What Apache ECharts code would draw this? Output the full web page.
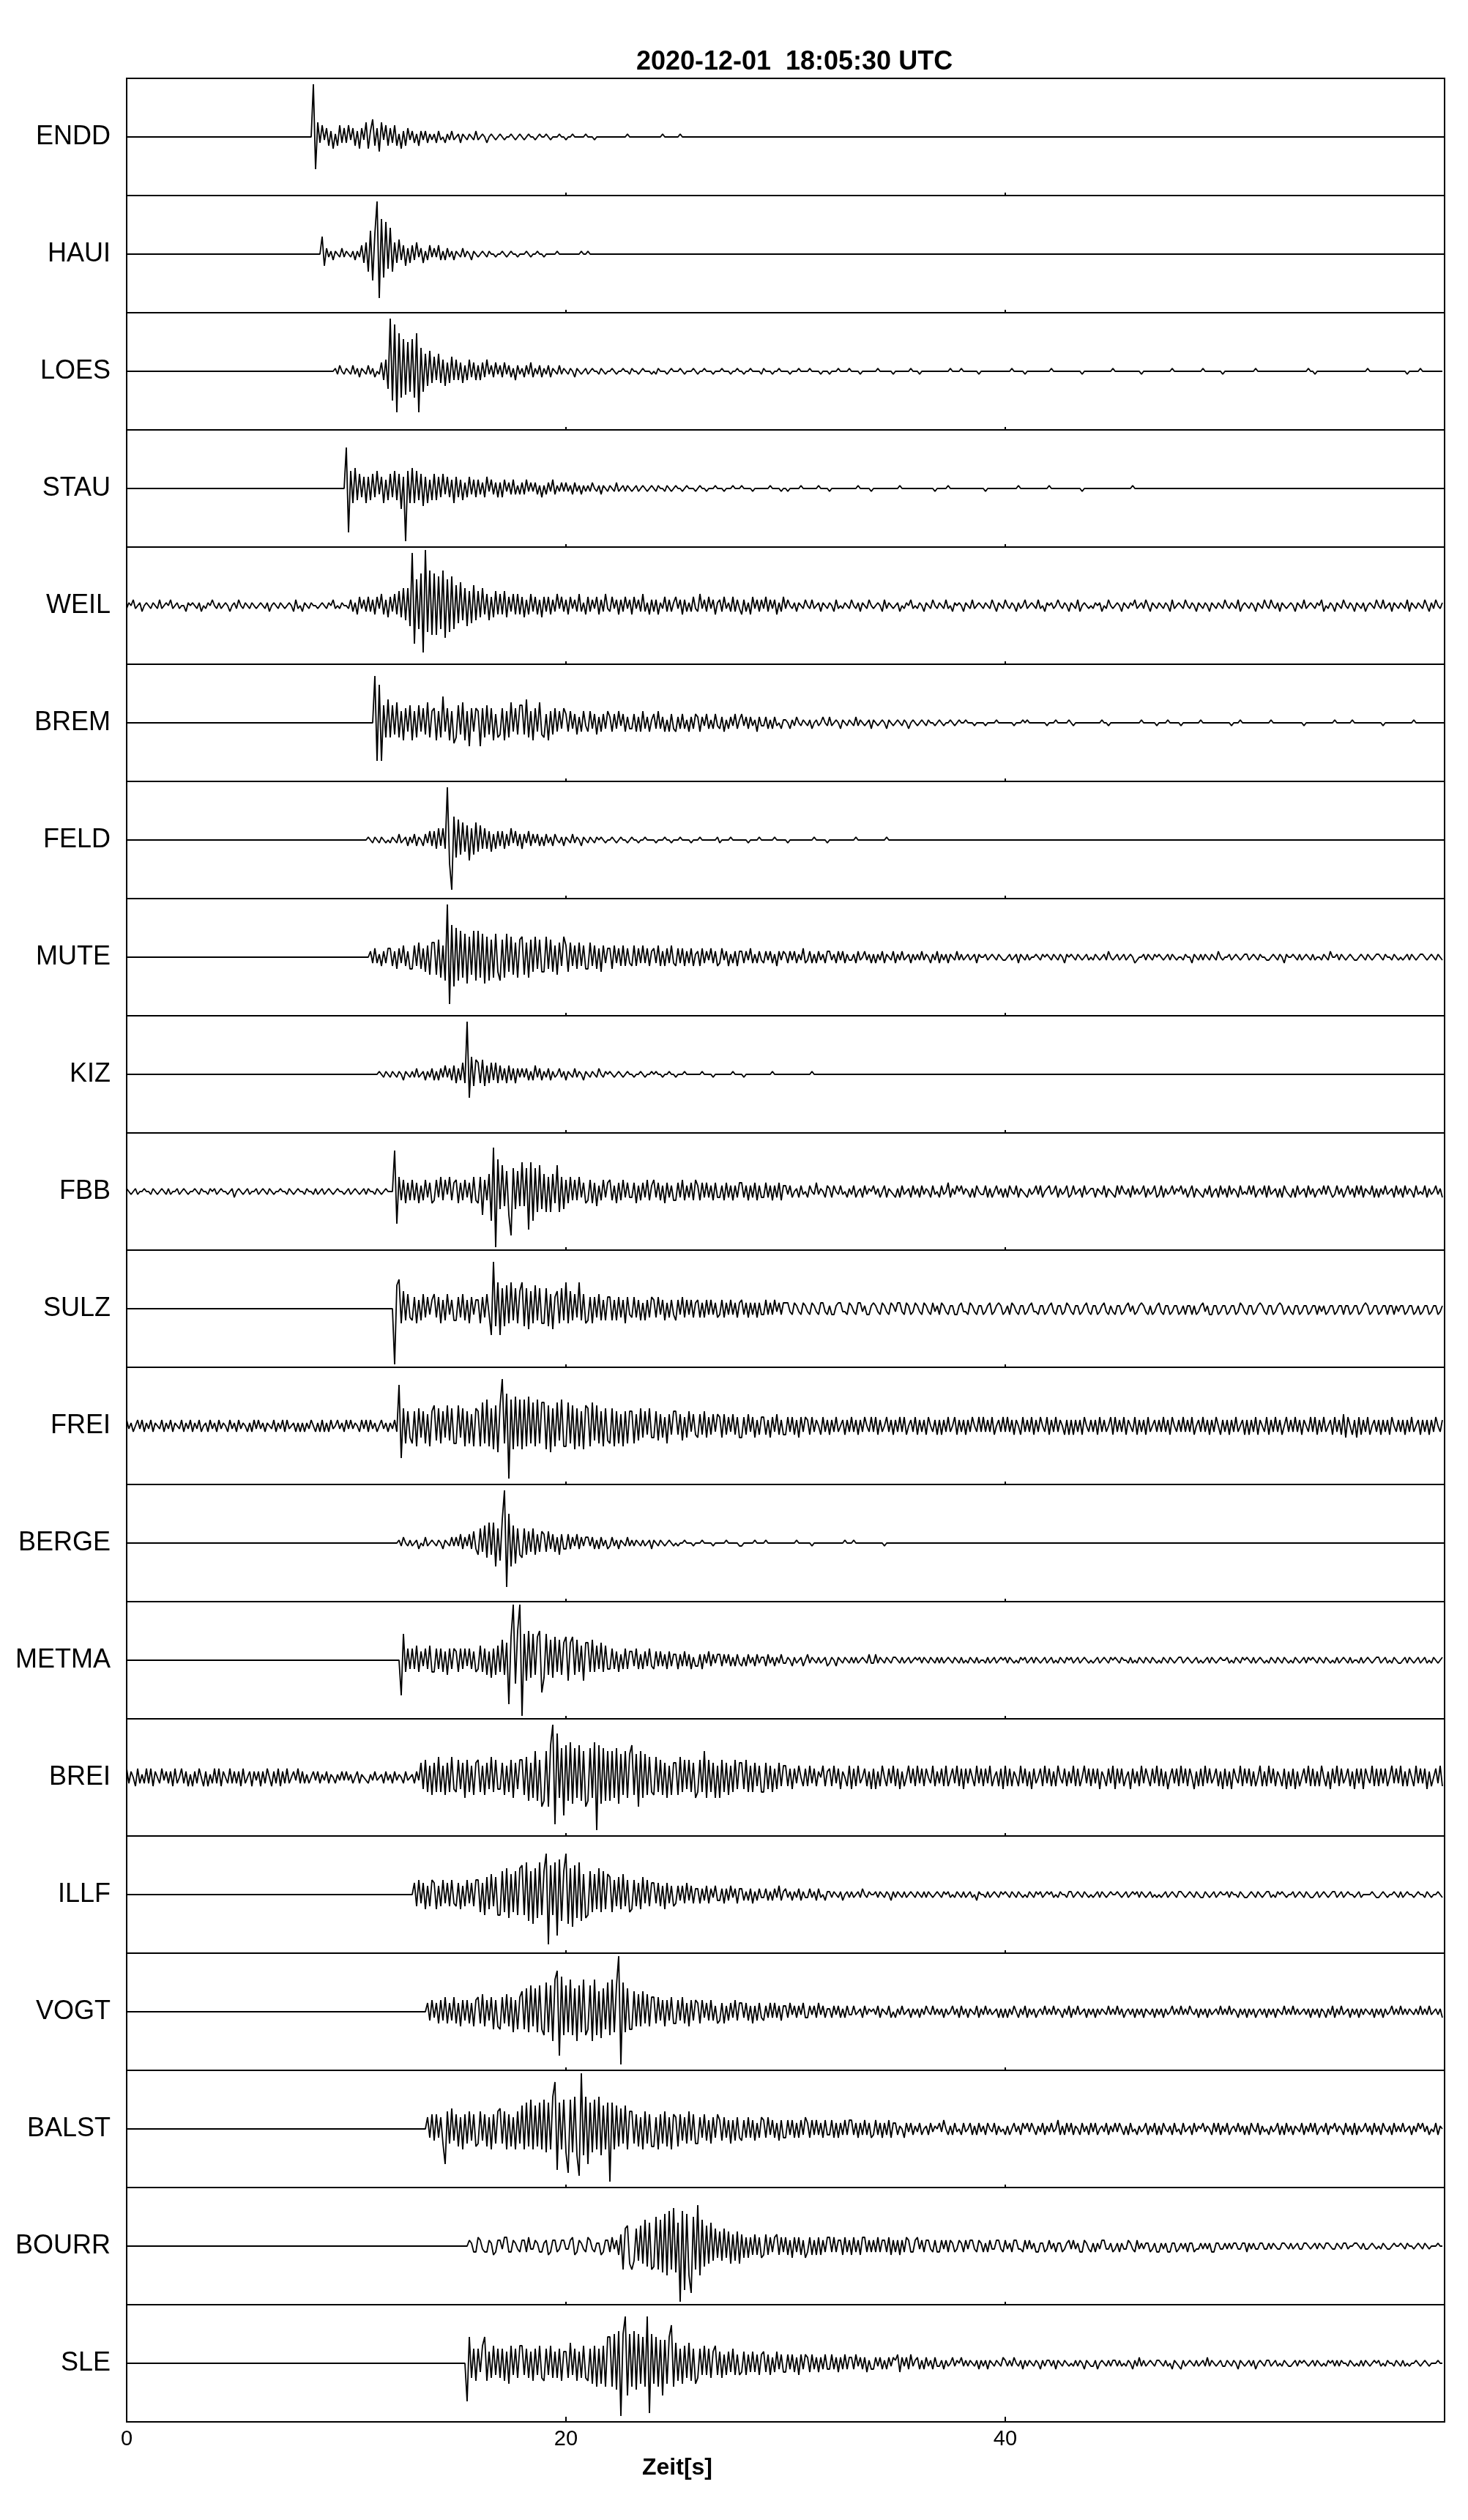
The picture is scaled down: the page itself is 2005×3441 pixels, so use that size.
<!DOCTYPE html>
<html><head><meta charset="utf-8">
<script src="https://cdn.jsdelivr.net/npm/echarts/dist/echarts.min.js"></script>
<style>html,body{margin:0;padding:0;background:#fff}#c{width:2005px;height:3441px}</style>
</head><body><div id="c"></div><script>
// ---- data ----
// Each trace: start second + space-separated groups, one group per second of record.
// Sample codes: '0' = 0, 'A'..'T' = +1..+20, 'a'..'t' = -1..-20 (20 = half the trace height).
const titleText = '2020-12-01  18:05:30 UTC';
const axisTitle = 'Zeit[s]';
const timeTicks = [0, 20, 40];
const stations = ['ENDD','HAUI','LOES','STAU','WEIL','BREM','FELD','MUTE','KIZ','FBB','SULZ','FREI','BERGE','METMA','BREI','ILLF','VOGT','BALST','BOURR','SLE'];
const startSeconds = [8, 8, 9, 9, 0, 11, 10, 11, 11, 0, 12, 0, 12, 12, 0, 13, 13, 13, 15, 15];

const ENDD = "00000RkEbD aCcBdAcDbC bDaCcBdCaE dBFcCeEaDc CbDcAdBcCa BbAcBaBbAa AbBa0bAaBa 0AbA0aA0aB a0A0b0A0a0 A0a00A0a0A 0a0A00a0A0 0A0a000A00 a00A00000A 000a000000 00000000A0 0000000000 0000A00000 00A0000000";
const HAUI = "000000000F dBaAbA0aBa A0aAbAaCcD fHiGRoLhKe IfDcEbCdBc CbDaBcAbCa BaCbAbBaAb A0aBaA0bA0 a0A0aA00a0 0A0a0A00a0 00A0a00A00 a00000A000 0000000A00 A000000000";
const LOES = "00000AaB0a A0aBaAbA0a BaAb0aCcDf RjPnMiKhJg KiMnHgFeGd EcFdDeCdEc DcCdBcDbCc BcCbDaBbCa BbCaBbAcBa AbBaCbAaBb AaBbA0aBaA 0aA0bA0a0A " +
  "a0A00aA0a0 0A0a00A00a A00a0A000a 0aA000a0A0 00A0a000A0 a00A000a00 0A000a00A0 0a00A0000a A000a00A00 00a000A000 0A0000a000 a000A0000A " +
  "0000a00000 00A000000a 0000000A00 0a00000000 00000A0000 A0000000a0 0000000000 000A00000a 0000000000 0A00000000 00000a0000 000000000A " +
  "0000000000 00a0000000 000000A000 0000000000 A00000000a 0000000000 0000A00000 0000000000 00000000A0 0a00000000 0000000000 00000A0000 0000000000 000a00000A 0000000000";
const STAU = "0000000000 NoFeGdEcDe DdEcFbDeCd EcFdEgDrFe GeFdEfDeCd EdDcEbDcCe DcCdBcDbCc CbBcDaCbBc BcCaBbCbAb BbCaBaBbAc AbBaCbAaBa BaAbBaAbAa AaB0aAbA0a A0aBa0AaA0 a0Aa0A0a0A 0aA00aA0a0 A00a0A000a " +
  "0A00a000A0 00a000A000 A0000a0000 000A0000a0 0a00000A00 00000A0000 a000000000 000A00000a 0000000000 00A0000000 00000000a0 0000A00000 0000000000 0a00000000 000000A000 0000000000 A000000000 00000a0000 0000000000 00000000A0";
const WEIL = "aA0Ba0Ab0A 0aA0aBa0A0 Ba0Aa00bA0 A0aAb0aA0B 0aAa0A0b0A aB0aA0aA0a 0A0aAb0A0a A0a0A0bBa0 bA0aA00a0A 0aA0Ba0aA0 " +
  "0aBbAcCaBb CbBcCaDcBd CbDcEdFeFg RmIhKpSiLj KjJhLkIiJh GfHeFgEfGe EdFcDeCdEc DcEdCbDcDc CdBcDbCcBd CbCcBbDaCb " +
  "BcCaBbDbAc CbBaCcBbDa bCaBcBbCaB cCaBbDbAcB bBcAaCbBbA CaBcBbAbCa bDaBbCaBcA BbCaAbCbBa cBbAcCaBbB aCbBaBcAbC " +
  "aB0aAbA0aB 0aBa0AbA0a A0bBa0aA0a B0aAbA0aB0 a0A0bBaA0a 0Ab0aA0Ba0 aA0bA0aB0a A0aBa0bA0A 0bA0aBa0A0 aA0aB0bA0a " +
  "B0aA0bAa0B a0A0aBa0bA 0Aa0B0aA0b A0aBb0A0a0 aA0Ab0aB0a 0A0bA0aA0B a0AaB0bA0a A0aA0bBa0A 0aB0aA0bA0 aA0bA0aA0a " +
  "B0aA0aBb0A 0aA0bA0aB0 aB0aAbA0a0 A0bA0aBa0A 0aA0Bb0aA0 bA0aB0aA0b A0aAb0A0aB 0aBa0AbA0a A0aBbA0aA0 aB0bAaB0aA";
const BREM = "000PmMmFeH eFdGeDfEcF fDeFcEdGeD EfDeIcEfDg eFdGfDhEcE DhEeFdEfCe dEfDeGcEdF FdHeDfEcGd eCfDdEcDbE CcDbCdBcDa cDbCdBcCbD BcCbDaCcBb bCcBcDbBcA CbDbBcAcCb cBbCbAcBbC BcBaCbAbCa bBcAbBaCbA CaBbBaAcBa aBbAbBa0bA " +
  "A0bAaB0aA0 aAb0Aa0B0a Ba0A0bA0aA 0aBaA0a0Ab A0a0A0bA0a 0A0aA0b0A0 a0A0aA00a0 A0a00A0a0A " +
  "00A000a000 0a0000A000 0000a000A0 A00000000a 000A00000A 0a00000000 0000A00a00 0000000000 00A000000a 0000A00000 a00000000A 0000000000 000a000A00 0000000000 0A00000000 000000a000 0000000000 A0000000A0 0000000000 00a0000000 000000A000";
const FELD = "0000000000 A0aA0aA0a0 aA0aBa0AbA aBbA0bBaCb CcDbDcRhqH fGeFdEgDeF dEcDcCdBcC bCcBbDaCbB cBaCbBaBbA bBaAbB0aAb A0aBaA0bA0 aA0aA0A0a0 0A0a0A00a0 " +
  "A00a00A000 0a000A00a0 00A0000a00 0A0000000A a0000A0000 000a0000A0 00000A0000 0a00000000 000A00000a 0000000000 00A0000000 000000A000";
const MUTE = "0BbCbAcBbC CcBdCbDcBd dDcEdCeDfE EfFgDhRpKj JhIgHiGfIh IgHiGhFgHe hFgHeGfEgF GfEgFeGdFe eGdFeDfEcG DeEcDdEcDd dEcDdCeDbC CdDbCcDcCb cDcCbDbCcB CbDcBcCbDb cCbCcBbCcA BcCbBaCbBc bCaBcAbBcB BbBaCbAbBa bBaBbAcBaB AbBaBbAaCb " +
  "aBbAbBaAbB BaAbBaBbAa aAbBa0BaAb AbAaBbA0aB bAaBa0AbAa AaBaA0bAaB bAaAbA0aBa " +
  "Aa0Aa0AbA0 0Aa0A0aA0a a0Aa0AbA0a Aa00A0aA0A 0aA0aA0bA0 A0aA0a0Aa0 aA0a0AaB0a 0Aa0Aa0A0b a00AaA0aA0 A0a0AaA0a0 0aA00bA0aA " +
  "aA0aA0aB0a 00Aa0A0a0A Aa0A0aA00a a0A0aA0bA0 0A0aAa0A0a Aa00aA0aB0 0AaA0a0A0a a0A0aA0a0A A0aA00aA0a 0a0AaA0a0A A0a0A0aA0a";
const KIZ = "00000A0aA0 aA0aA0bA0a AaBa0AbAaB bAbBaCaBbC cBbDcRhFdE DcEdCcDbDc CbBcCbBcBa BaBbAbCaBb AaBbAa0BaA bA0aBaA0bA 0aA0aB0aA0 A0a0A0a0A0 0a00A0a00A 0A00a00A00 " +
  "a000A00000 00A0000a00 000000A000 0a00000000 0000A00000 0000000000 00A0000000";
const FBB = "A0a0Aa00A0 0aA0a0A0aA a00Aa0A0a0 0A0aA00aA0 Aa0A00a0Ab 0A0a0Aa00A a0A0aA0a00 A00aA0a0A0 0aA00aAa0A a0A0a0A00a 0Aa0A0a0Aa A00aA0a0A0 " +
  "00NkEcDdCc DcCdBcDbCd cDbEcDaEcC DdCcDbCdEc dEhDcFjOsK fIeGhoHfGe JeHmJjHgIf FgEgFdIgEf DdEcDcEbCd cDdCeBcDbC DcBdCcDbCb bCdBcCbDcB DbCcBdCbBc cCbDcBbCcD BcCbCbBcCb bBcCbBcBbC CbBcBbCcBb bCbBcBbCcB " +
  "BaBb0AbBa0 bB0aCaA0bB AbB0aBa0bA aBb0AbBaA0 BaAb0BbA0a bAbBa0AbBa AbBaA0bBa0 bBa0CbAaB0 BaA0bAbB0a aBbAb0BaAb " +
  "AbB0aBbA0a bAa0BaBb0A Ba0BbAa0Bb aBa0AbBa0A AbA0aBbA0a bBaB0aAbBa Aa0BbAa0Bb aBbAa0BaA0 BaAb0BbA0a bAaBb0AbBa " +
  "AbBaA0bBa0 aBaBb0AaBb Ba0AbAbB0a bAbBa0AbBa Ab0AaBaB0b aBaAb0BaAb BaBbA0aBbA bAaBa0AbBa AbBaA0bBa0 aBbAa0BaAb";
const SULZ = "00sHJeFdEc dDeCdEcDbC EcDeCdEbCd dDcEdCeDbC CeDcEbiPfI iGfHeIdGeF IfGgFeHdGe eGfEgDFeGd IeFdEcIdEe dDeDcEdCdD DdCdDcCeDb cDcCdBdCcD CcDbCdBcCb dCbDcCbCcB CcBcCbCbBc bCcBbCbBcB CbBcBbBcBb bCbBbCaBbB " +
  "BBabBAabBA abBAabBBab AbbABBaabB AabBBaAbbA BAabBAabBA aBBabBAbaB AabBAabBaA bBAabAAbbA BaabBAabAA baABbaABAb " +
  "aAbBAabAAb aABaabAAba ABabAAbaBA abAAbaABab AAbaABabAa bAAbaABaAb aABAabAbaA BabAAbaAAb aAbAAbAbaA BaAbbAAbaA " +
  "AbaAAbaBAa bAAbaABAab AAbaABAbaA abAAbaAAba AAbAaAbaAA baAAbAAbaA AbaABAbaAA baAAbAAbAa AAbaAAbaAb aAAbaAAbaA";
const FREI = "BaAb0BaBbA aBbA0aBbAa BbA0aBbAaB bAaBb0AbBa AbBaA0bBaA bBaA0bAbBa BaAbA0aBbA aBbBa0AbAb AbAaB0bAbB bAbBa0BaAb BaBaA0bBaB bBaAb0BaAb " +
  "AaBbNkFfEd fEgFdEfDgE GeFfEdGeFf fGdFgEfDgF EgHfIgFhGi GPfKrIhJgI hIgJfHgIfH HhGiFgHeIg gHfGhFgEhG FgHeGfEgFe fFgEfDgEfE EfDeFdEcFd dEeDdCfDcE EcDeCdEbDc dDcEdCcDbD CdDcCbDcCd dCcDbCdBcC CcBdCbDcBc cCbCcBdCbC " +
  "BcCbB0cCbB cBbCb0BcBb CbBcBbC0bC bCcBb0CbBc BbCbCc0BbC cBbBcC0bBc BcBbCb0CcB bBcBbC0bCb CbBbCc0BbC bCbBcB0cCb " +
  "BbCcBbC0bC cBbCbB0cBc BcBbBcC0bB bBcCbBb0Cc CbBbCcB0bC cBbBcCb0Bb BbCbBcC0bB bCbBbCc0Bb CbBcBbC0cB bBcBbCb0Bc " +
  "BcBbCcB0bC cBbCbBc0Cb BbCbBcB0bC bCcBbCb0Bc CbBcDdC0cB dCcBbCc0Bb BcBbBcC0bB bBcBbCb0Bc BbBcBbC0bB";
const BERGE = "0000AaB0aA a0Ab0aBa0A 0aA0bA0aBa BaCbBaCbDb dEcFeGdGhE fHRoJhFgEd eEdDcEdCcD CcDbCcBdCb bCbBaCbBaB BaBbAbBaAb aBaAbA0aBa AaA0aAa0Ab A0aA0a0A0a " +
  "0a00A000a0 00A0000a00 000A00000a a00000A000 0A00000000 00000A0000 00a0000000 0000000A00 0A00000000 00000a0000";
const METMA = "00000lIdDc DcEdCbDcEd dDcDdCeDcD CdDcDbDcCd cEdDeCfDeE dGeFoHShJS sIgJfIeHJk fIeGfHdGeF HgFHeGdEgF FdGdEcFdEc cDcCdBcDcC CbDcBcCbDb cCbCbBcCbB BcBbCbBcAb bBcBaCbBaB BbBaBbAbBa bAbBaAbBaA AbBaAbAaBa " +
  "aA0bAa0Ab0 BaA0aAa0Ab aA0bA0aA0a AaAa0A0aBa aBaA0aA0aA A0aAa0Aa0A 0AaA0aA0aA aAa0A0aA0a Aa0aA0aAa0 0aAa0Aa0A0 " +
  "AaA0a0aA0A a0AaA0a0Aa 0Aa0aA0aA0 Aa0Aa0A0a0 a0Aa0A0aA0 A0aA00aAa0 aA0aA0aA0a 0aA0aA0a0A Aa0A0a0Aa0 a0AaA0a0A0 " +
  "0Aa0aA0aA0 A0aAa0A0a0 aA0aA0aA0a 0aA0a0AaA0 A0aA0aA0a0 aAa0A0aAa0 0aAa0A0a0A Aa0Aa0aA0a a0AaA0a0Aa 0Aa0aA0a0A";
const BREI = "CbB0cCbAbC bCcB0bCaBb BcCb0CbBcA cBbC0cBcAb CbCcB0bCbB bBcCb0BcBa BcBbC0cBbC cBbCb0BaCb " +
  "BbAb0BaBbA aBbA0bAaBa BaAb0BbA0a bAaBa0AbBa AbBaA0bBa0 " +
  "AbBaEdFeDf EeGeDfEeGd eFdEgFeDfE FeDfEdGeFd dEfDeFgEdF FfGhEgIhFj hIjKRpOgJm KhLiJgKhIj hJgLrKiJhI hIgJiHfIgH KfHjIgHfGe fGeFfEgDfE EfGeFdFeEg eFeIgFeEgD gFeEfDeFdE EdFeDeEcDe eEdDeCdEcD " +
  "DcCdCbD0cC cDbCcB0DcB CcDbCdB0cD dCcDb0CcBd CdBcD0cCbD cCdBc0DbCc DbCcC0bDcB bCcDc0CbDc CdCbC0cDbC cCbDc0BcCd " +
  "DcCcB0cDbC cBdCb0CcDb CcBcD0bCcB bDcCc0DbCc CbCdB0cCbD dCbCc0BdCb BcDbC0cCbD cCcBd0CbCc DbCcC0dBcC cDbCb0CcBd " +
  "CcBdC0bDcC bCcBc0DcBc DbCcB0cCdB cCdBc0CbDc CcBcD0cBdC bDcCb0CcBd CbCdC0bDcC cCbCc0DbCb DcBcC0cDbC bCdBc0CbDc";
const ILLF = "0DdEcDeCdE DeCdEcDdEc dDeCdEcDdE EfDgFeGdFg gHfIhGfHgI JgKiHjIhKg HNqJgKnLiH NjIkJhKiGh gHfGeIfHeG FfEdFeGdEf eEdDeFcEdD DcDdCeDcCd cCbCcDbCcB BcBbCcBaCb bBcBbCaBcB BbAbBcAbBa aBbAbBaCbA BaAbAaBbAa aBaAbBa0bA " +
  "AaA0aAb0Aa Aa0AaB0aA0 0AaA0aA0bA aA0aAa0A0a A0aAaA0a0A 0aA0Aa0aA0 aAa0Aa0bA0 0aAa0A0aA0 A0aA0aA0a0 aA0aA0Aa0A " +
  "0Aa0aA00aA Aa0A0aA0a0 a0AaA0a0A0 0A0a0Aa0A0 AaA0a0Aa0a 0a0Aa0A0aA A0a0A0aA0a aA0a0Aa0A0 0AaA00aA0a a0A0aA0a0A " +
  "Aa0aA0A0a0 0Aa0A0aA0a a0Aa0A0a0A Aa0Aa0A00a 0Aa0000A0a a0A0a00A0a Aa0A00a0A0 0aA0a00A0a";
const VOGT = "0000000CcD bCdDcEdCcE dCeDcDdCeD EdFeDcEfDe fEdFeEgDfE GfHgIeHgIf hJgIjKNoLh IgKhHjIgKh fIjKhGiHfJ hKgISrJgHf fGeFeGdFeE EdEcDeDcEd dDcEdCeDcD CdDbCcDcBd cCdBcCbDcC CbCcBdBcCb cBbCbCbBcB BbCaBbBaCb bBaBbCaBbA AbBaBbAbBa " +
  "aBa0AbBaA0 AaBbA0aBb0 bAaBa0AbAa AbAaB0aBaA aAbAa0BaAb BaAbA0aBbA aBaAa0AbAb AbAaB0bAaB bAaAb0AaBa AaBaA0bAaB " +
  "bAaBa0AbAa AbAaA0aBaA aBaAb0AaAb AaAbA0aAbA aAbAa0BaAa BaAaB0aAbA aAbAa0AaBa AaBaA0bAaA bAaAb0AaAb AaAbA0aBaA " +
  "aBaAa0AaAb AaAbA0bAaB bAaBa0AbAa AbAaA0aAbA aAbAa0BaAa BaAaA0aAaB aAaBa0AaAb";
const BALST = "0000000DcE dEcDelFeGd EfDgEeFdEf eFdEfDgEeF GeFgEfDgFe HgIfJgHfIg JhIgKPnIgJ hoJhKipSiK lIhJgKiHgI rIgHfGeHgF FeEfDgFeEf fDgEeFfDgE DfEdDeFdEe eDcEdCeDcE CdDcCeCdDc dCcDcCdBcD CcDbCcBdCc cCbCcBcCbD BcCbCbBcCb bCcBcBbCbC CbBcBbCbBc bCbBcBbCcB " +
  "BbA0cBaBbA aBb0AbBaA0 BaC0bAbBa0 bBa0BbAbBa AbB0aBbAa0 bAb0BaAbB0 BaB0bAaBbA aBa0CbAbBa BbA0bBaAbB aBb0AaBbAa " +
  "BaB0bAbBa0 bAa0BbAaBb AbB0aAbBa0 bBa0AbBaA0 BaA0bBaBbA aBb0AaBaAb AbB0aBbAa0 bAa0BbAbBa AbA0aBbAaB aBb0AaBbA0 " +
  "BaA0bBaAbB bAa0BaAbBa AbB0aAbBaA aBa0AbAaB0 BaAb0aBbA0";
const BOURR = "000000BAbb CBabbBAcbB BaCCbbBAab BBbCaaBAbb ABcbBBbaBB aaBCcbBAab CBabAAcbBB bCaBcDhFGf heFeGfIgHh gJhIiKjLhM iHsLoKjpJh NjIgGfHeFd EeFdEfDeEf DdCdCcDcCd cDcCbCDcCb CcBdCbCcBd bCcBcCcBbC CbCbBBcCbB cCbBcCCbBb BbCbBBbCcB bBcBbCBbbB CaBbBBabBb " +
  "bBaBbBAbaB AbBaBBabBA bAbBaaBBab BaAbBBaabB aBaAbbAAba BaAbAAbaAB aBaAbbBAab AbAaBBaaAb aAbAaaBAab BaAaAAbaAb " +
  "bAaAbbAAba AaAbAAbaaA aAaAbbAAaa AaAaAAaaAA bAaAaaAAaa AaA0aaAA0a Aa0AaaAA0a 0AaA0aAA0a aA0aAAa00A A0aAaa0A0a " +
  "0aA0aa0A00 A0aA00a0A0 aA0a000A00";
const SLE = "00000mIeEf EcFIfDeFdE eEfDgFdEeF FdEeDfEdFe fEdFeDeEfD DeGdEfDeFe fEgFhEgFhI IhJiKrJPkJ hKiJgIhPqJ gIhHkHgIMh GfEgFeGfEg eEdFdEeDFd DeCdDcEdCd cDdCcDcCdC DcCdBcDbCc cCbCcBdCbC BcCbBcBbCb bCbBcBbCbB BbCaBbBcAb bBaBbAbBaB ACcBaBbCaA BbAbBaAbBa " +
  "aAbAa0BaA0 BaAaA0aAbA aAbA0aA0aB AaAaB0aAbA aA0aA0bAaA AaAbA0aA0a 0aAaA0bA0a aAb0A0aAaA AaAa0aA0bA aBaAa0A0aA " +
  "A0aAa0bA0a bAa0A0aAa0 AaBaA0a0Aa aA0aA0bA0a 0AaAb0A0aA Aa0Aa0aA0a a0AaA0A0a0 AaA0a0aA0A aAaA00aA0a 0aAaA0a0A0 " +
  "Aa0aA00aA0 aAa0a00A0a 0A0a000A00";
const traceCodes = [ENDD, HAUI, LOES, STAU, WEIL, BREM, FELD, MUTE, KIZ, FBB, SULZ, FREI, BERGE, METMA, BREI, ILLF, VOGT, BALST, BOURR, SLE];

// ---- build ----
function codeValue(ch) {
  if (ch === '0') return 0;
  if (ch >= 'A' && ch <= 'Z') return ch.charCodeAt(0) - 64;
  return -(ch.charCodeAt(0) - 96);
}
// every group is one second; its samples are spread evenly over that second
function decodeTrace(code, t0) {
  const pts = [];
  code.trim().split(/\s+/).forEach((grp, s) => {
    const n = grp.length;
    for (let k = 0; k < n; k++) pts.push([+(t0 + s + k / n).toFixed(4), codeValue(grp[k])]);
  });
  return pts;
}
const FONT = '"Liberation Sans", Arial, Helvetica, sans-serif';
const T_MIN = 0, T_MAX = 60;
const PLOT_LEFT = 173, PLOT_TOP = 107, ROW_H = 160, PLOT_W = 1800;
const N = stations.length;
const grids = [], xAxes = [], yAxes = [], series = [];
for (let i = 0; i < N; i++) {
  const last = i === N - 1;
  grids.push({ left: PLOT_LEFT, top: PLOT_TOP + i * ROW_H, width: PLOT_W, height: ROW_H,
    show: true, borderColor: '#000', borderWidth: 2, backgroundColor: 'transparent' });
  xAxes.push({ gridIndex: i, type: 'value', min: T_MIN, max: T_MAX, interval: 20,
    axisLine: { show: false, onZero: false },
    axisTick: { show: true, inside: true, length: last ? 7 : 4, lineStyle: { color: '#000', width: 2 } },
    axisLabel: { show: last, color: '#000', fontSize: 29, fontFamily: FONT, margin: 9,
      formatter: v => (timeTicks.indexOf(v) >= 0 ? String(v) : '') },
    splitLine: { show: false } });
  yAxes.push({ gridIndex: i, type: 'value', min: -20, max: 20, interval: 20,
    axisLine: { show: false }, axisTick: { show: false }, splitLine: { show: false },
    axisLabel: { show: true, color: '#000', fontSize: 36, fontFamily: FONT, margin: 22,
      formatter: v => (v === 0 ? stations[i] : '') } });
  const t0 = startSeconds[i];
  const pts = decodeTrace(traceCodes[i], t0);
  const data = [];
  if (t0 > T_MIN) data.push([T_MIN, 0]);
  pts.forEach(p => data.push(p));
  const tEnd = pts.length ? pts[pts.length - 1][0] + 0.1 : T_MIN;
  if (tEnd < T_MAX) { data.push([tEnd, 0]); data.push([T_MAX, 0]); }
  series.push({ type: 'line', xAxisIndex: i, yAxisIndex: i, data: data, symbol: 'none', showSymbol: false,
    lineStyle: { color: '#000', width: 1.8 }, silent: true, animation: false, clip: true });
}
const chart = echarts.init(document.getElementById('c'), null, { renderer: 'canvas' });
chart.setOption({
  animation: false,
  backgroundColor: '#fff',
  title: { text: titleText, left: 1080, top: 62, textAlign: 'center',
    textStyle: { fontSize: 36, fontWeight: 'bold', color: '#000', fontFamily: FONT } },
  grid: grids, xAxis: xAxes, yAxis: yAxes, series: series,
  graphic: [{ type: 'text', x: 925, y: 3370,
    style: { text: axisTitle, font: 'bold 32px ' + FONT, fill: '#000',
      textAlign: 'center', textVerticalAlign: 'middle', align: 'center', verticalAlign: 'middle' } }]
});
</script></body></html>
